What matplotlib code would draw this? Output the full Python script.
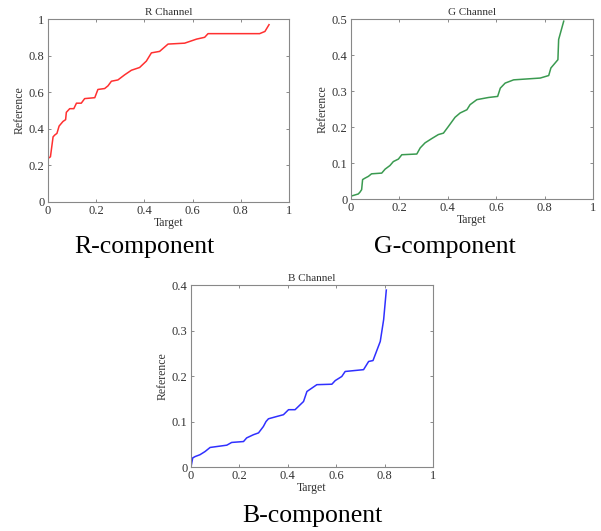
import matplotlib
matplotlib.use('Agg')
import matplotlib.pyplot as plt

plt.rcParams['font.family'] = ['Liberation Serif', 'DejaVu Serif']
plt.rcParams['xtick.direction'] = 'in'
plt.rcParams['ytick.direction'] = 'in'
plt.rcParams['xtick.top'] = True
plt.rcParams['ytick.right'] = True

# R channel mapping curve (target -> reference)
r_x = [0, 0, 0.01, 0.021, 0.028, 0.037, 0.046, 0.062, 0.073, 0.076, 0.09, 0.107, 0.118, 0.138,
       0.152, 0.194, 0.207, 0.235, 0.249, 0.263, 0.29, 0.318, 0.346, 0.38, 0.408, 0.429, 0.463,
       0.498, 0.567, 0.616, 0.65, 0.664, 0.878, 0.9, 0.917]
r_y = [0.183, 0.238, 0.247, 0.356, 0.366, 0.375, 0.415, 0.44, 0.45, 0.49, 0.51, 0.51, 0.54, 0.54,
       0.565, 0.57, 0.615, 0.62, 0.635, 0.66, 0.667, 0.695, 0.72, 0.735, 0.77, 0.815, 0.823,
       0.863, 0.868, 0.89, 0.9, 0.92, 0.92, 0.932, 0.969]

# G channel
g_x = [0, 0.03, 0.037, 0.044, 0.048, 0.058, 0.072, 0.085, 0.127, 0.141, 0.161, 0.175, 0.196,
       0.21, 0.272, 0.286, 0.306, 0.334, 0.361, 0.382, 0.403, 0.43, 0.451, 0.479, 0.492, 0.52,
       0.568, 0.606, 0.617, 0.637, 0.672, 0.782, 0.817, 0.826, 0.855, 0.858, 0.879]
g_y = [0.008, 0.014, 0.019, 0.026, 0.054, 0.058, 0.063, 0.07, 0.072, 0.083, 0.093, 0.104, 0.111,
       0.123, 0.125, 0.142, 0.156, 0.168, 0.179, 0.183, 0.202, 0.227, 0.239, 0.248, 0.262, 0.276,
       0.282, 0.285, 0.308, 0.322, 0.331, 0.336, 0.343, 0.364, 0.387, 0.443, 0.494]

# B channel
b_x = [0, 0.007, 0.017, 0.037, 0.058, 0.079, 0.148, 0.168, 0.217, 0.23, 0.258, 0.279, 0.299,
       0.31, 0.32, 0.354, 0.382, 0.403, 0.43, 0.465, 0.479, 0.52, 0.582, 0.596, 0.623, 0.637,
       0.713, 0.734, 0.752, 0.782, 0.796, 0.807]
b_y = [0, 0.02, 0.023, 0.027, 0.034, 0.043, 0.048, 0.054, 0.056, 0.064, 0.071, 0.075, 0.089,
       0.1, 0.106, 0.111, 0.115, 0.126, 0.126, 0.144, 0.166, 0.181, 0.182, 0.19, 0.199, 0.21,
       0.214, 0.232, 0.234, 0.276, 0.324, 0.389]

x_ticks = [0, 0.2, 0.4, 0.6, 0.8, 1]
x_labels = ['0', '0.2', '0.4', '0.6', '0.8', '1']

fig = plt.figure(figsize=(6.01, 5.31), dpi=100)

panels = [
    # rect, x, y, colour, title, ymax, yticks, ylabels, caption, caption pos
    ([0.0799, 0.6196, 0.401, 0.3446], r_x, r_y, '#ff3030', 'R Channel', 1.0,
     [0, 0.2, 0.4, 0.6, 0.8, 1], ['0', '0.2', '0.4', '0.6', '0.8', '1'], 'R-component', (0.241, 0.535)),
    ([0.584, 0.6252, 0.4027, 0.339], g_x, g_y, '#3a9a50', 'G Channel', 0.5,
     [0, 0.1, 0.2, 0.3, 0.4, 0.5], ['0', '0.1', '0.2', '0.3', '0.4', '0.5'], 'G-component', (0.740, 0.535)),
    ([0.3178, 0.1205, 0.4027, 0.3427], b_x, b_y, '#3030ff', 'B Channel', 0.4,
     [0, 0.1, 0.2, 0.3, 0.4], ['0', '0.1', '0.2', '0.3', '0.4'], 'B-component', (0.519, 0.028)),
]

for rect, xs, ys, col, title, ymax, yt, yl, cap, cpos in panels:
    ax = fig.add_axes(rect)
    ax.plot(xs, ys, color=col, lw=1.1)
    ax.set_xlim(0, 1)
    ax.set_ylim(0, ymax)
    ax.set_xticks(x_ticks)
    ax.set_xticklabels(x_labels)
    ax.set_yticks(yt)
    ax.set_yticklabels(yl)
    ax.tick_params(labelsize=9, length=2.5, width=0.6, colors='#777777', labelcolor='#333333', pad=2.5)
    for s in ax.spines.values():
        s.set_color('#888888')
        s.set_linewidth(0.8)
    ax.set_title(title, fontsize=8, pad=3, color='#333333')
    ax.set_xlabel('Target', fontsize=8.5, labelpad=0, color='#333333')
    ax.set_ylabel('Reference', fontsize=8.5, labelpad=2, color='#333333')
    fig.text(cpos[0], cpos[1], cap, fontsize=18.5, ha='center', va='center')

fig.savefig('out.png', dpi=100)
